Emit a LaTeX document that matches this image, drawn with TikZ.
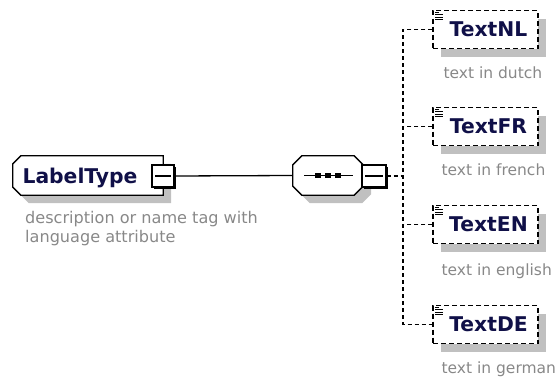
\documentclass[tikz,border=0pt]{standalone}
\usepackage{fontspec}
\setmainfont{DejaVu Sans}
\usetikzlibrary{shadows,calc}
\definecolor{namec}{RGB}{16,16,72}
\definecolor{descc}{RGB}{136,136,136}
\definecolor{shadc}{RGB}{192,192,192}
\tikzset{
  namefont/.style={font=\bfseries\fontsize{20.3}{22}\selectfont, text=namec},
  descfont/.style={font=\fontsize{15.5}{19}\selectfont, text=descc, inner sep=0pt},
  boxshadow/.style={drop shadow={shadow xshift=8pt, shadow yshift=-8pt, opacity=1, fill=shadc}},
  outline/.style={draw=black, fill=white, line width=1.3pt},
  shadowfill/.style={fill=shadc},
  placebox/.style={rectangle, inner sep=0pt, draw=none},
  childbox/.style={rectangle, draw=black, fill=white, line width=1.3pt, dash pattern=on 5pt off 3pt,
    minimum width=105pt, minimum height=38pt, inner sep=0pt, boxshadow, namefont},
  minusbox/.style={rectangle, draw=black, fill=white, line width=1.2pt, inner sep=0pt,
    minimum height=22pt,
    drop shadow={shadow xshift=1.8pt, shadow yshift=-1.8pt, opacity=1, fill=black},
    path picture={\draw[line width=1.2pt] ([xshift=3pt]path picture bounding box.west) -- ([xshift=-3pt]path picture bounding box.east);}},
  solidline/.style={line width=1.3pt, draw=black},
  dashline/.style={line width=1.3pt, draw=black, dash pattern=on 4pt off 3pt},
}
\begin{document}
\begin{tikzpicture}[x=1pt,y=-1pt]
\useasboundingbox (0,0) rectangle (560,380);

% root element
\node[placebox, minimum width=150pt, minimum height=39pt] (lt) at (88,175.5) {};
\fill[shadowfill] ([shift={(16pt,-8pt)}]lt.north west) -- ([shift={(8pt,-8pt)}]lt.north east)
  -- ([shift={(8pt,-8pt)}]lt.south east) -- ([shift={(16pt,-8pt)}]lt.south west)
  -- ([shift={(8pt,0pt)}]lt.south west) -- ([shift={(8pt,-16pt)}]lt.north west) -- cycle;
\path[outline] ([xshift=8pt]lt.north west) -- (lt.north east) -- (lt.south east)
  -- ([xshift=8pt]lt.south west) -- ([yshift=8pt]lt.south west)
  -- ([yshift=-8pt]lt.north west) -- cycle;
\node[namefont, anchor=base, inner sep=0pt] (ltname) at (80,183.5) {LabelType};
\node[minusbox, minimum width=22pt] (ltm) at (163,176) {};
\node[descfont, font=\fontsize{16.1}{19}\selectfont, anchor=north west, align=left] (ltdesc) at (25,211.5)
  {description or name tag with\\language attribute};

% sequence compositor
\node[placebox, minimum width=70pt, minimum height=39pt] (seq) at (328,175.5) {};
\fill[shadowfill] ([shift={(17pt,-8pt)}]seq.north west) -- ([shift={(-1pt,-8pt)}]seq.north east)
  -- ([shift={(8pt,-17pt)}]seq.north east) -- ([shift={(8pt,1pt)}]seq.south east)
  -- ([shift={(-1pt,-8pt)}]seq.south east) -- ([shift={(17pt,-8pt)}]seq.south west)
  -- ([shift={(8pt,1pt)}]seq.south west) -- ([shift={(8pt,-17pt)}]seq.north west) -- cycle;
\path[outline] ([xshift=9pt]seq.north west) -- ([xshift=-9pt]seq.north east)
  -- ([yshift=-9pt]seq.north east) -- ([yshift=9pt]seq.south east)
  -- ([xshift=-9pt]seq.south east) -- ([xshift=9pt]seq.south west)
  -- ([yshift=9pt]seq.south west) -- ([yshift=-9pt]seq.north west) -- cycle;
\draw[line width=1.3pt] ($(seq.center)+(-24,0)$) -- ($(seq.center)+(25,0)$);
\foreach \dx in {-10,0,10}
  \fill ($(seq.center)+(\dx,0)$) ++(-2.7,-2.7) rectangle ++(5.4,5.4);
\node[minusbox, minimum width=24pt] (seqm) at (374,176) {};

\draw[solidline] (ltm.east) -- (seq.west);

% children
\node[childbox] (nl) at (485.5,29.5) {\hspace*{6pt}TextNL};
\node[childbox] (fr) at (485.5,126.5) {\hspace*{6pt}TextFR};
\node[childbox] (en) at (485.5,224.5) {\hspace*{6pt}TextEN};
\node[childbox] (de) at (485.5,324.5) {\hspace*{6pt}TextDE};

\foreach \n in {nl,fr,en,de}{
  \draw[line width=0.9pt] ($(\n.north west)+(3,2.5)$) -- +(4,0);
  \draw[line width=0.9pt] ($(\n.north west)+(3,5)$) -- +(8,0);
  \draw[line width=0.9pt] ($(\n.north west)+(3,7.5)$) -- +(8,0);
  \draw[line width=0.9pt] ($(\n.north west)+(3,10)$) -- +(8,0);
}

\node[descfont, anchor=base west] (nld) at ($(nl.south west)+(11,29.5)$) {text in dutch};
\node[descfont, anchor=base west] (frd) at ($(fr.south west)+(9,29.5)$) {text in french};
\node[descfont, anchor=base west] (end) at ($(en.south west)+(9,31)$) {text in english};
\node[descfont, anchor=base west] (ded) at ($(de.south west)+(9,29.5)$) {text in german};

% connectors
\coordinate (tr) at (403,176);
\draw[dashline] (seqm.east) -- (seqm.east -| tr);
\draw[dashline] (nl.west) -- (nl.west -| tr) -- (de.west -| tr) -- (de.west);
\draw[dashline] (fr.west) -- (fr.west -| tr);
\draw[dashline] (en.west) -- (en.west -| tr);
\end{tikzpicture}
\end{document}
